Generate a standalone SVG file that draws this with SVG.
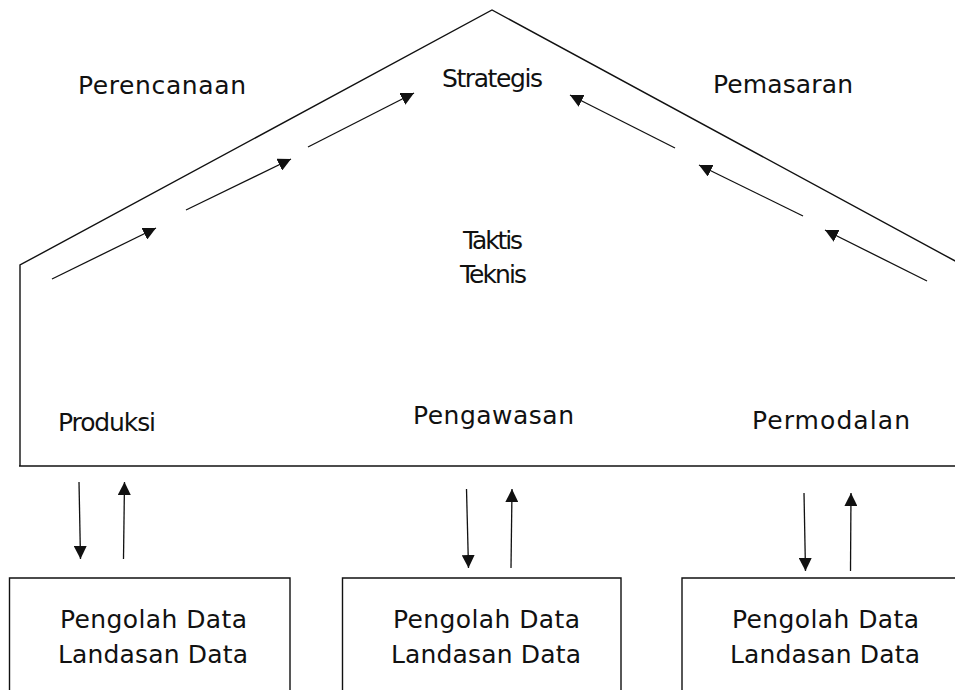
<svg xmlns="http://www.w3.org/2000/svg" width="955" height="690" viewBox="0 0 955 690">
<style>
.ln{fill:none;stroke:#111;stroke-width:1.4}
.ar{fill:none;stroke:#111;stroke-width:1.3;marker-end:url(#ah)}
.t{font-family:"DejaVu Sans","Liberation Sans",sans-serif;font-size:25px;fill:#111}
.b{font-size:25px}
</style>
<defs>
<marker id="ah" viewBox="0 0 12 12" refX="12" refY="6" markerWidth="13" markerHeight="13" markerUnits="userSpaceOnUse" orient="auto">
<path d="M0,0 L12,6 L0,12 z" fill="#111"/>
</marker>
</defs>
<rect width="955" height="690" fill="#fff"/>
<g id="house">
<path class="ln" d="M20,466 V265 L492,10 L957,262"/>
<path class="ln" d="M19,466 H955"/>
<text class="t" x="78" y="94" textLength="168">Perencanaan</text>
<text class="t" x="442" y="87" textLength="101">Strategis</text>
<text class="t" x="713" y="93" textLength="140">Pemasaran</text>
<text class="t" x="463" y="249" textLength="60">Taktis</text>
<text class="t" x="460" y="283" textLength="67">Teknis</text>
<text class="t" x="58" y="431" textLength="98">Produksi</text>
<text class="t" x="413" y="424" textLength="161">Pengawasan</text>
<text class="t" x="752" y="429" textLength="158">Permodalan</text>
</g>
<g id="box1">
<path class="ln" d="M9.5,691 V578 H290 V691"/>
<text class="t b" x="60" y="628" textLength="187">Pengolah Data</text>
<text class="t b" x="58" y="663" textLength="190">Landasan Data</text>
</g>
<g id="box2">
<path class="ln" d="M342.5,691 V578 H621 V691"/>
<text class="t b" x="393" y="628" textLength="187">Pengolah Data</text>
<text class="t b" x="391" y="663" textLength="190">Landasan Data</text>
</g>
<g id="box3">
<path class="ln" d="M682,691 V578 H956"/>
<text class="t b" x="732" y="628" textLength="187">Pengolah Data</text>
<text class="t b" x="730" y="663" textLength="190">Landasan Data</text>
</g>
<g id="connectors">
<line class="ar" x1="52" y1="279" x2="156" y2="228"/>
<line class="ar" x1="186" y1="210" x2="291" y2="159"/>
<line class="ar" x1="308" y1="147" x2="414" y2="93"/>
<line class="ar" x1="675" y1="148" x2="570" y2="95"/>
<line class="ar" x1="803" y1="216" x2="699" y2="165"/>
<line class="ar" x1="927" y1="281" x2="825" y2="230"/>
<line class="ar" x1="79" y1="482" x2="80.5" y2="559"/>
<line class="ar" x1="123.5" y1="559" x2="124.5" y2="482"/>
<line class="ar" x1="466.5" y1="489" x2="468.5" y2="568"/>
<line class="ar" x1="511" y1="568" x2="512" y2="489"/>
<line class="ar" x1="804" y1="493" x2="805.5" y2="571"/>
<line class="ar" x1="850.5" y1="571" x2="851" y2="493"/>
</g>
</svg>
